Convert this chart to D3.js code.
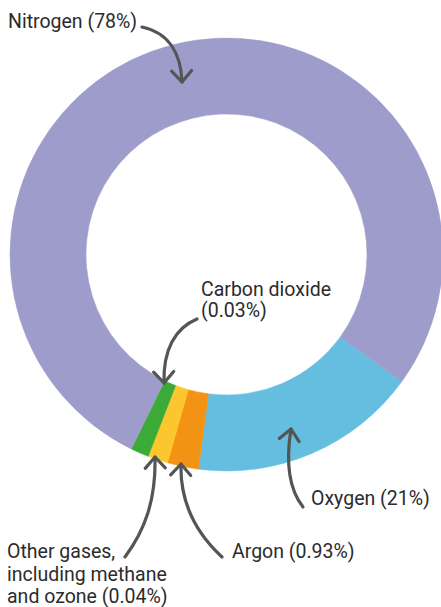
<!DOCTYPE html>
<html><head><meta charset="utf-8">
<script src="https://cdn.jsdelivr.net/npm/d3@7"></script>
<style>
html,body{margin:0;padding:0;background:#fff;}
svg{display:block;}
text{font-family:Roboto, "DejaVu Sans", sans-serif;fill:#2b2b2b;}
</style></head><body>
<svg id="chart" width="441" height="607"></svg>
<script>
const gases   = ["Oxygen", "Argon", "Other gases", "Carbon dioxide", "Nitrogen"];
const shares  = [61.5, 8.4, 5.4, 4.9, 279.8];
const labels  = ["Oxygen (21%)", "Argon (0.93%)", "Other gases,|including methane|and ozone (0.04%)", "Carbon dioxide|(0.03%)", "Nitrogen (78%)"];
const colors  = ["#65bee0", "#f39314", "#fcc72e", "#3caa36", "#9e9ccb"];

const W = 441, H = 607;
const cx = 226.5, cy = 254.5, rOuter = 216.5, rInner = 140.5;
const startDeg = 125.9;

const svg = d3.select("#chart");
const g = svg.append("g").attr("transform", `translate(${cx},${cy})`);

const pie = d3.pie().sort(null).value(d => d)
  .startAngle(startDeg * Math.PI / 180)
  .endAngle((startDeg + 360) * Math.PI / 180);
const arc = d3.arc().innerRadius(rInner).outerRadius(rOuter);

g.selectAll("path.slice").data(pie(shares)).enter().append("path")
  .attr("class", "slice")
  .attr("d", arc)
  .attr("fill", (d, i) => colors[i])
  .attr("stroke", (d, i) => colors[i])
  .attr("stroke-width", 0.5);

// Label layout (index into gases, baseline positions)
const labelLayout = [
  {i: 4, x: 8,   y: 28,  lh: 21},
  {i: 3, x: 201, y: 296, lh: 21},
  {i: 0, x: 311, y: 505, lh: 21},
  {i: 1, x: 232, y: 558, lh: 21},
  {i: 2, x: 7,   y: 558, lh: 22.5}
];
labelLayout.forEach(L => {
  const t = svg.append("text").attr("x", L.x).attr("y", L.y).attr("font-size", 19.5);
  labels[L.i].split("|").forEach((s, k) => {
    t.append("tspan").attr("x", L.x).attr("y", L.y + k * L.lh).text(s);
  });
});

// Annotation arrows (curved leader lines with open chevron heads)
const arrows = [
  {d: [[142,27],[170,33],[181,55],[182,82]]},
  {d: [[197,319],[175,328],[163,350],[164,383]]},
  {d: [[125,557],[145,530],[156,500],[155,457]]},
  {d: [[222,557],[195,532],[180,500],[181,464]]},
  {d: [[303,507],[288,488],[286,460],[291,429]]}
];
const ag = svg.append("g").attr("fill","none").attr("stroke","#555").attr("stroke-width",3.2)
  .attr("stroke-linecap","round").attr("stroke-linejoin","round");
arrows.forEach(a => {
  const [p0,p1,p2,p3] = a.d;
  ag.append("path").attr("d", `M${p0}C${p1} ${p2} ${p3}`);
  const ang = Math.atan2(p3[1]-p2[1], p3[0]-p2[0]);
  const len = 15, spread = 42 * Math.PI/180;
  const l = [p3[0] - len*Math.cos(ang - spread), p3[1] - len*Math.sin(ang - spread)];
  const r = [p3[0] - len*Math.cos(ang + spread), p3[1] - len*Math.sin(ang + spread)];
  ag.append("path").attr("d", `M${l}L${p3}L${r}`);
});
</script>
</body></html>
